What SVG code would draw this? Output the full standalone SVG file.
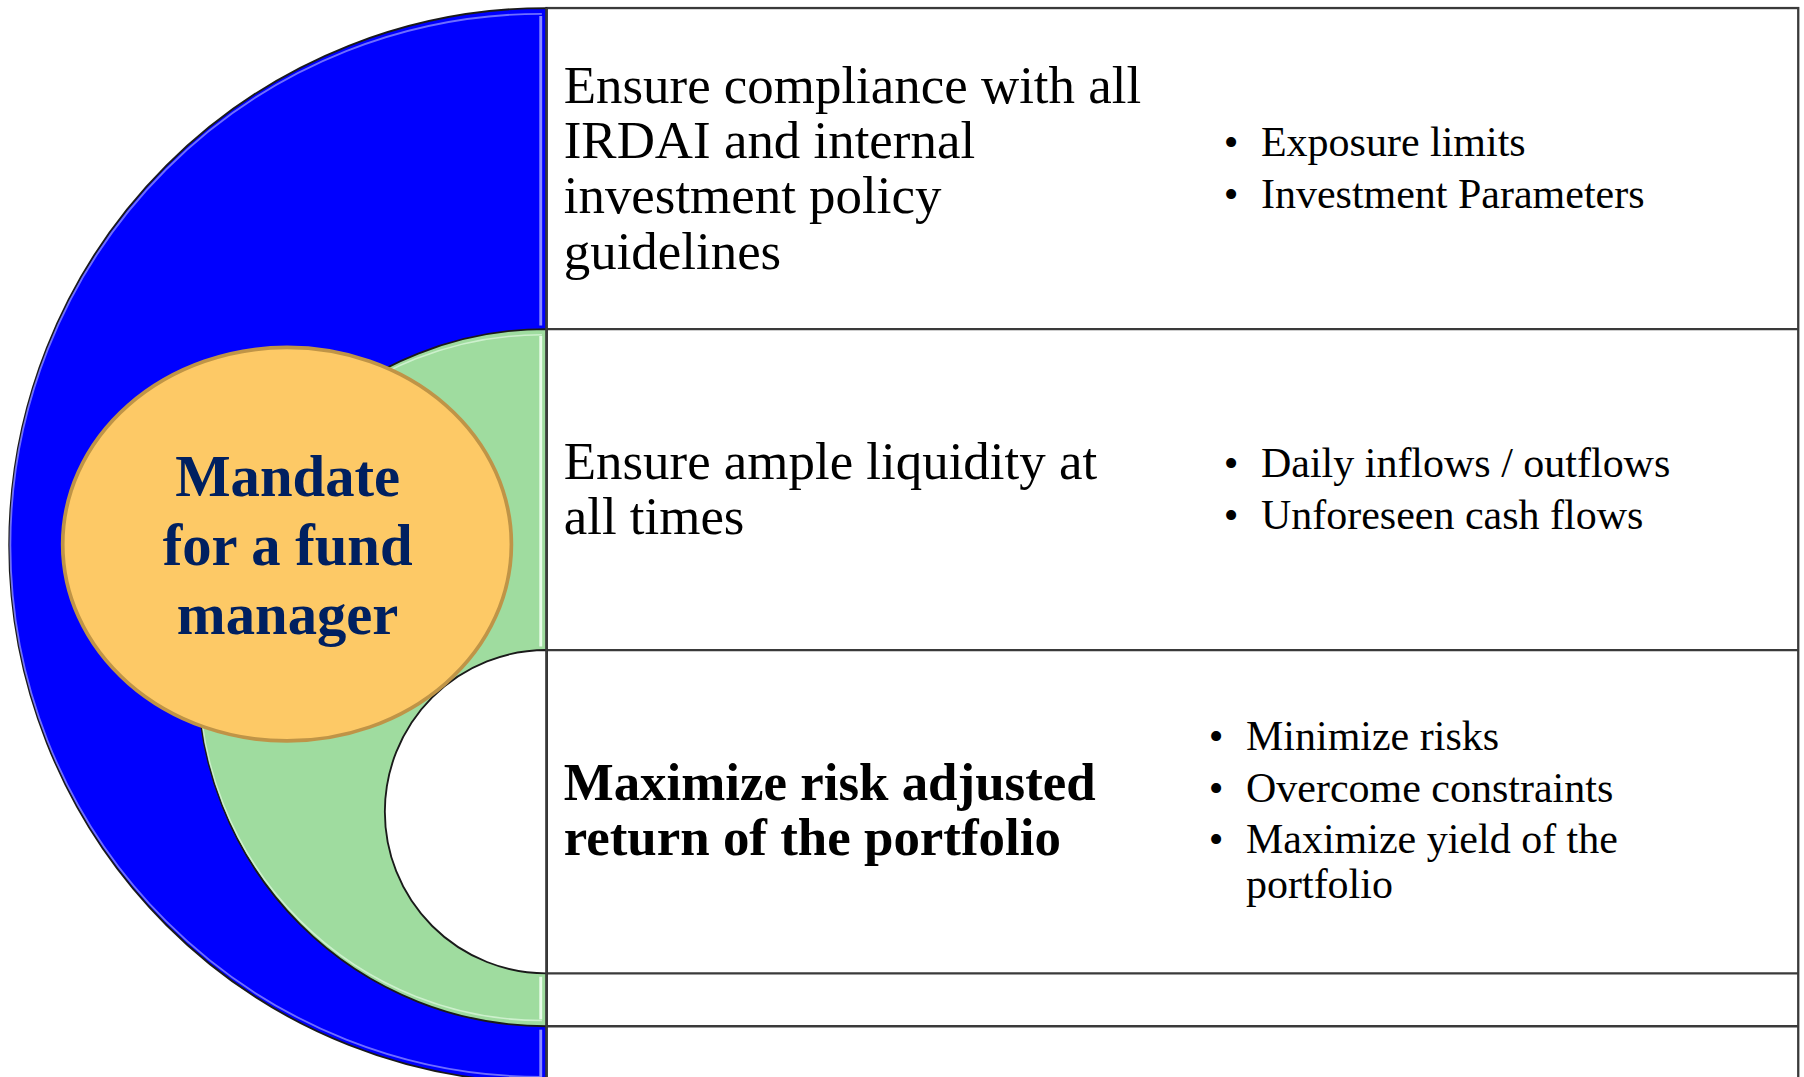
<svg xmlns="http://www.w3.org/2000/svg" width="1804" height="1077" viewBox="0 0 1804 1077">
<style>
.t{font-family:"Liberation Serif","Times New Roman",serif;fill:#000}
.main{font-size:46px}
.mainb{font-size:46px;font-weight:bold}
.bul{font-size:36.5px}
.ctr{font-family:"Liberation Serif","Times New Roman",serif;font-size:51px;font-weight:bold;fill:#002060}
.rowline{stroke:#3a3a3a;stroke-width:2;fill:none}
.arcedge{stroke:#1a1a1a;stroke-width:1.6}
</style>
<rect width="1804" height="1077" fill="#ffffff"/>
<g transform="scale(1.15051)">
  <g id="table">
    <rect x="475" y="7" width="1088" height="960" fill="#fdfdfd" class="rowline"/>
    <line x1="475" y1="286" x2="1563" y2="286" class="rowline"/>
    <line x1="475" y1="565" x2="1563" y2="565" class="rowline"/>
    <line x1="475" y1="846" x2="1563" y2="846" class="rowline"/>
    <line x1="475" y1="892" x2="1563" y2="892" class="rowline"/>
  </g>
  <g id="ring-blue">
    <path d="M475 7 A467 467 0 0 0 475 941 Z" fill="#0000ff" class="arcedge"/>
    <path d="M471 12 A462 462 0 0 0 471 936" fill="none" stroke="#8a8aff" stroke-width="1.6" stroke-opacity="0.8"/>
    <line x1="470" y1="14" x2="470" y2="283" stroke="#8a8aff" stroke-width="2.5"/>
    <line x1="470" y1="895" x2="470" y2="936" stroke="#8a8aff" stroke-width="2.5"/>
  </g>
  <g id="ring-green">
    <path d="M475 286 A303 303 0 0 0 475 892 Z" fill="#9fdc9f" class="arcedge"/>
    <path d="M471 291 A298 298 0 0 0 471 887" fill="none" stroke="#d8f5d8" stroke-width="1.4" stroke-opacity="0.8"/>
    <line x1="470" y1="292" x2="470" y2="562" stroke="#e8fbe8" stroke-width="2.5"/>
    <line x1="470" y1="849" x2="470" y2="886" stroke="#e8fbe8" stroke-width="2.5"/>
  </g>
  <g id="ring-white">
    <path d="M475 565 A140.5 140.5 0 0 0 475 846 Z" fill="#ffffff" class="arcedge"/>
  </g>
  <line x1="475" y1="7" x2="475" y2="960" class="rowline"/>
  <g id="center-node">
    <ellipse cx="249.5" cy="473" rx="195" ry="171" fill="#fdc966" stroke="#bf9447" stroke-width="3.2"/>
    <text class="ctr" text-anchor="middle" x="250" y="431">Mandate</text>
    <text class="ctr" text-anchor="middle" x="250" y="491">for a fund</text>
    <text class="ctr" text-anchor="middle" x="250" y="551">manager</text>
  </g>
  <g id="row-compliance">
    <text class="t main" x="490" y="89.5">Ensure compliance with all</text>
    <text class="t main" x="490" y="137.5">IRDAI and internal</text>
    <text class="t main" x="490" y="185.5">investment policy</text>
    <text class="t main" x="490" y="233.5">guidelines</text>
    <text class="t bul" x="1070" y="136" text-anchor="middle">•</text>
    <text class="t bul" x="1096" y="136">Exposure limits</text>
    <text class="t bul" x="1070" y="181" text-anchor="middle">•</text>
    <text class="t bul" x="1096" y="181">Investment Parameters</text>
  </g>
  <g id="row-liquidity">
    <text class="t main" x="490" y="416.5">Ensure ample liquidity at</text>
    <text class="t main" x="490" y="464.5">all times</text>
    <text class="t bul" x="1070" y="414.5" text-anchor="middle">•</text>
    <text class="t bul" x="1096" y="414.5">Daily inflows / outflows</text>
    <text class="t bul" x="1070" y="459.5" text-anchor="middle">•</text>
    <text class="t bul" x="1096" y="459.5">Unforeseen cash flows</text>
  </g>
  <g id="row-return">
    <text class="t mainb" x="490" y="695.5">Maximize risk adjusted</text>
    <text class="t mainb" x="490" y="743">return of the portfolio</text>
    <text class="t bul" x="1057" y="651.5" text-anchor="middle">•</text>
    <text class="t bul" x="1083" y="651.5">Minimize risks</text>
    <text class="t bul" x="1057" y="697" text-anchor="middle">•</text>
    <text class="t bul" x="1083" y="697">Overcome constraints</text>
    <text class="t bul" x="1057" y="741" text-anchor="middle">•</text>
    <text class="t bul" x="1083" y="741">Maximize yield of the</text>
    <text class="t bul" x="1083" y="780.5">portfolio</text>
  </g>
</g>
</svg>
